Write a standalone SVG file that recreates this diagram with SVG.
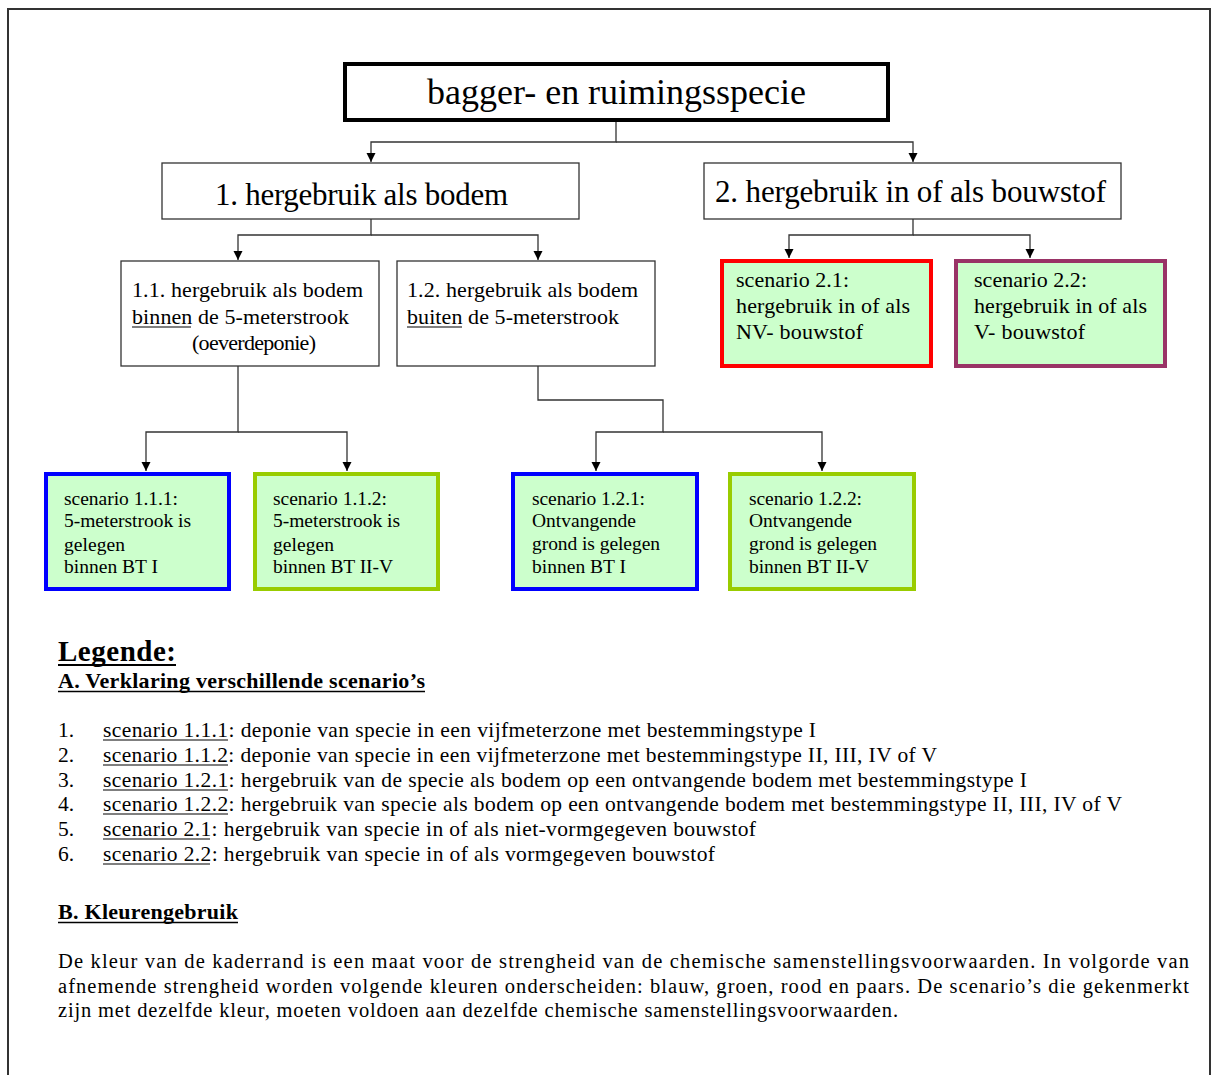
<svg xmlns="http://www.w3.org/2000/svg" width="1212" height="1075" viewBox="0 0 1212 1075">
<defs>
<marker id="arr" markerUnits="userSpaceOnUse" markerWidth="10" markerHeight="10" refX="9" refY="5" orient="auto">
<path d="M0,0.5 L9,5 L0,9.5 z" fill="#000"/>
</marker>
<style>
text{font-family:"Liberation Serif","Times New Roman",serif;fill:#000}
.plain{fill:#fff;stroke:#333;stroke-width:1.3}
.scen{fill:#ccffcc;stroke-width:4}
.blue{stroke:#0000ff}
.green{stroke:#99cc00}
.red{stroke:#ff0000}
.purple{stroke:#993366}
.conn path{fill:none;stroke:#333;stroke-width:1.3;marker-end:url(#arr)}
.t21{font-size:22px}
.t18{font-size:19.5px}
.t20{font-size:21.5px}
.p{font-size:20.5px}
.h{font-size:22px}
.b{font-weight:bold}
.ul{stroke:#000;stroke-width:1.2}
</style>
</defs>
<rect width="1212" height="1075" fill="#fff"/>
<rect x="8" y="9" width="1202" height="1080" fill="none" stroke="#333" stroke-width="2"/>

<g class="conn" id="connectors">
<path d="M616,120 V142 H371 V162"/>
<path d="M616,142 H913 V162"/>
<path d="M371,219 V235 H238 V260"/>
<path d="M371,235 H538 V260"/>
<path d="M913,219 V235 H789 V258"/>
<path d="M913,235 H1030 V258"/>
<path d="M238,366 V432 H146 V471"/>
<path d="M238,432 H347 V471"/>
<path d="M538,366 V400 H663 V432 H596 V471"/>
<path d="M663,432 H822 V471"/>
</g>

<g id="root">
<rect x="345" y="64" width="543" height="56" fill="#fff" stroke="#000" stroke-width="4"/>
<text x="427" y="104" font-size="36" textLength="379" lengthAdjust="spacing">bagger- en ruimingsspecie</text>
</g>

<g id="n1">
<rect class="plain" x="162" y="163" width="417" height="56"/>
<text x="215" y="205" font-size="31" textLength="293" lengthAdjust="spacing">1. hergebruik als bodem</text>
</g>

<g id="n2">
<rect class="plain" x="704" y="163" width="417" height="56"/>
<text x="715" y="202" font-size="31" textLength="391" lengthAdjust="spacing">2. hergebruik in of als bouwstof</text>
</g>

<g id="n11">
<rect class="plain" x="121" y="261" width="258" height="105"/>
<text class="t21" x="132" y="297" textLength="231" lengthAdjust="spacing">1.1. hergebruik als bodem</text>
<text class="t21" x="132" y="324" textLength="217" lengthAdjust="spacing">binnen de 5-meterstrook</text>
<line class="ul" x1="132" y1="327" x2="191" y2="327"/>
<text class="t21" x="192" y="350" textLength="124" lengthAdjust="spacing">(oeverdeponie)</text>
</g>

<g id="n12">
<rect class="plain" x="397" y="261" width="258" height="105"/>
<text class="t21" x="407" y="297" textLength="231" lengthAdjust="spacing">1.2. hergebruik als bodem</text>
<text class="t21" x="407" y="324" textLength="212" lengthAdjust="spacing">buiten de 5-meterstrook</text>
<line class="ul" x1="407" y1="327" x2="462" y2="327"/>
</g>

<g id="s21">
<rect class="scen red" x="722" y="261" width="209" height="105"/>
<text class="t21" x="736" y="287" textLength="113" lengthAdjust="spacing">scenario 2.1:</text>
<text class="t21" x="736" y="313" textLength="174" lengthAdjust="spacing">hergebruik in of als</text>
<text class="t21" x="736" y="339" textLength="127" lengthAdjust="spacing">NV- bouwstof</text>
</g>

<g id="s22">
<rect class="scen purple" x="956" y="261" width="209" height="105"/>
<text class="t21" x="974" y="287" textLength="113" lengthAdjust="spacing">scenario 2.2:</text>
<text class="t21" x="974" y="313" textLength="173" lengthAdjust="spacing">hergebruik in of als</text>
<text class="t21" x="974" y="339" textLength="111" lengthAdjust="spacing">V- bouwstof</text>
</g>

<g id="s111">
<rect class="scen blue" x="46" y="474" width="183" height="115"/>
<text class="t18" x="64" y="505" textLength="114" lengthAdjust="spacing">scenario 1.1.1:</text>
<text class="t18" x="64" y="527" textLength="127" lengthAdjust="spacing">5-meterstrook is</text>
<text class="t18" x="64" y="551" textLength="61" lengthAdjust="spacing">gelegen</text>
<text class="t18" x="64" y="573" textLength="94" lengthAdjust="spacing">binnen BT I</text>
</g>

<g id="s112">
<rect class="scen green" x="255" y="474" width="183" height="115"/>
<text class="t18" x="273" y="505" textLength="114" lengthAdjust="spacing">scenario 1.1.2:</text>
<text class="t18" x="273" y="527" textLength="127" lengthAdjust="spacing">5-meterstrook is</text>
<text class="t18" x="273" y="551" textLength="61" lengthAdjust="spacing">gelegen</text>
<text class="t18" x="273" y="573" textLength="120" lengthAdjust="spacing">binnen BT II-V</text>
</g>

<g id="s121">
<rect class="scen blue" x="513" y="474" width="184" height="115"/>
<text class="t18" x="532" y="505" textLength="113" lengthAdjust="spacing">scenario 1.2.1:</text>
<text class="t18" x="532" y="527" textLength="104" lengthAdjust="spacing">Ontvangende</text>
<text class="t18" x="532" y="550" textLength="128" lengthAdjust="spacing">grond is gelegen</text>
<text class="t18" x="532" y="573" textLength="94" lengthAdjust="spacing">binnen BT I</text>
</g>

<g id="s122">
<rect class="scen green" x="730" y="474" width="184" height="115"/>
<text class="t18" x="749" y="505" textLength="113" lengthAdjust="spacing">scenario 1.2.2:</text>
<text class="t18" x="749" y="527" textLength="103" lengthAdjust="spacing">Ontvangende</text>
<text class="t18" x="749" y="550" textLength="128" lengthAdjust="spacing">grond is gelegen</text>
<text class="t18" x="749" y="573" textLength="120" lengthAdjust="spacing">binnen BT II-V</text>
</g>

<g id="legend">
<text x="58" y="661" font-size="29" class="b" textLength="118" lengthAdjust="spacing">Legende:</text>
<line x1="58" y1="665" x2="176" y2="665" stroke="#000" stroke-width="2"/>
<text x="58" y="688" class="h b" textLength="367" lengthAdjust="spacing">A. Verklaring verschillende scenario’s</text>
<line x1="58" y1="691.5" x2="425" y2="691.5" stroke="#000" stroke-width="1.5"/>

<text class="t20" x="58" y="737">1.</text>
<text class="t20" x="103" y="737" textLength="713" lengthAdjust="spacing">scenario 1.1.1: deponie van specie in een vijfmeterzone met bestemmingstype I</text>
<line class="ul" x1="103" y1="740" x2="228" y2="740"/>
<text class="t20" x="58" y="762">2.</text>
<text class="t20" x="103" y="762" textLength="834" lengthAdjust="spacing">scenario 1.1.2: deponie van specie in een vijfmeterzone met bestemmingstype II, III, IV of V</text>
<line class="ul" x1="103" y1="765" x2="228" y2="765"/>
<text class="t20" x="58" y="787">3.</text>
<text class="t20" x="103" y="787" textLength="924" lengthAdjust="spacing">scenario 1.2.1: hergebruik van de specie als bodem op een ontvangende bodem met bestemmingstype I</text>
<line class="ul" x1="103" y1="790" x2="228" y2="790"/>
<text class="t20" x="58" y="811">4.</text>
<text class="t20" x="103" y="811" textLength="1019" lengthAdjust="spacing">scenario 1.2.2: hergebruik van specie als bodem op een ontvangende bodem met bestemmingstype II, III, IV of V</text>
<line class="ul" x1="103" y1="814" x2="228" y2="814"/>
<text class="t20" x="58" y="836">5.</text>
<text class="t20" x="103" y="836" textLength="653" lengthAdjust="spacing">scenario 2.1: hergebruik van specie in of als niet-vormgegeven bouwstof</text>
<line class="ul" x1="103" y1="839" x2="210" y2="839"/>
<text class="t20" x="58" y="861">6.</text>
<text class="t20" x="103" y="861" textLength="612" lengthAdjust="spacing">scenario 2.2: hergebruik van specie in of als vormgegeven bouwstof</text>
<line class="ul" x1="103" y1="864" x2="210" y2="864"/>

<text x="58" y="919" class="h b" textLength="180" lengthAdjust="spacing">B. Kleurengebruik</text>
<line x1="58" y1="922.5" x2="238" y2="922.5" stroke="#000" stroke-width="1.5"/>

<text class="p" x="58" y="968" textLength="1131" lengthAdjust="spacing">De kleur van de kaderrand is een maat voor de strengheid van de chemische samenstellingsvoorwaarden. In volgorde van</text>
<text class="p" x="58" y="993" textLength="1131" lengthAdjust="spacing">afnemende strengheid worden volgende kleuren onderscheiden: blauw, groen, rood en paars. De scenario’s die gekenmerkt</text>
<text class="p" x="58" y="1017" textLength="840" lengthAdjust="spacing">zijn met dezelfde kleur, moeten voldoen aan dezelfde chemische samenstellingsvoorwaarden.</text>
</g>
</svg>
